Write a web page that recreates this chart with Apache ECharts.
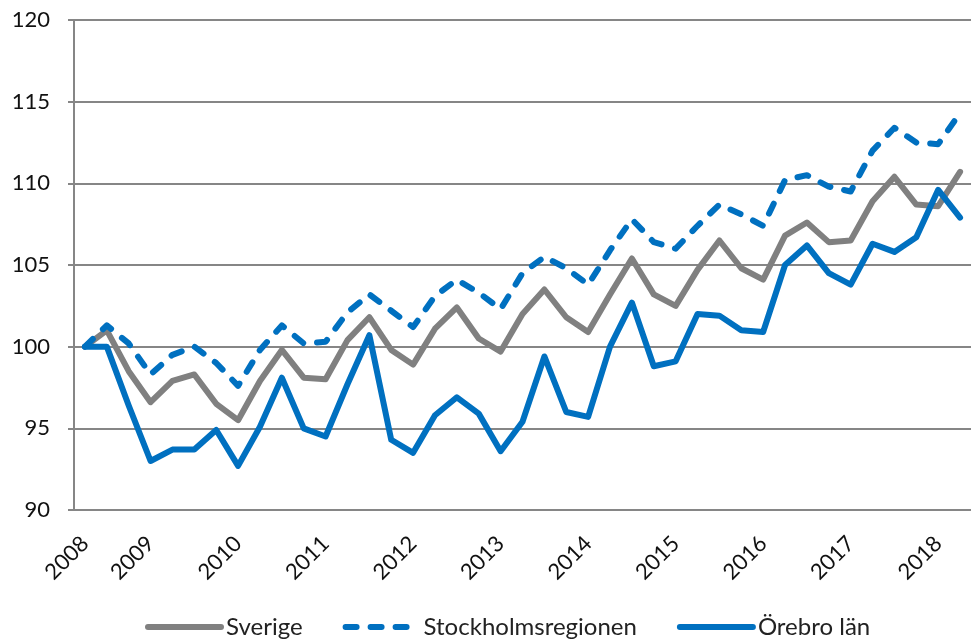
<!DOCTYPE html>
<html>
<head>
<meta charset="utf-8">
<script src="https://cdn.jsdelivr.net/npm/echarts@6/dist/echarts.min.js"></script>
<style>
html, body { margin: 0; padding: 0; background: #fff; }
#chart { width: 971px; height: 644px; }
</style>
</head>
<body>
<div id="chart"></div>
<script>
// kvartal 2008 K2 - 2018 K2, år visas vid första kvartalet
const categories = ['2008', '', '', '2009', '', '', '', '2010', '', '', '', '2011', '', '', '', '2012', '', '', '', '2013', '', '', '',
    '2014', '', '', '', '2015', '', '', '', '2016', '', '', '', '2017', '', '', '', '2018', ''];

const sverige = [100, 101.0, 98.5, 96.6, 97.9, 98.3, 96.5, 95.5, 97.9, 99.8, 98.1, 98.0, 100.4, 101.8,
    99.8, 98.9, 101.1, 102.4, 100.5, 99.7, 102.0, 103.5, 101.8, 100.9, 103.2, 105.4,
    103.2, 102.5, 104.7, 106.5, 104.8, 104.1, 106.8, 107.6, 106.4, 106.5, 108.9, 110.4, 108.7, 108.6, 110.7];

const stockholm = [100, 101.3, 100.2, 98.3, 99.5, 100.0, 99.0, 97.6, 99.8, 101.3, 100.2, 100.3, 102.1, 103.2,
    102.2, 101.2, 103.1, 104.1, 103.3, 102.3, 104.5, 105.5, 104.8, 103.8, 105.9, 107.8,
    106.4, 106.0, 107.4, 108.7, 108.1, 107.4, 110.2, 110.5, 109.8, 109.5, 112.0, 113.4, 112.5, 112.4, 114.3];

const orebro = [100, 100.0, 96.4, 93.0, 93.7, 93.7, 94.9, 92.7, 95.1, 98.1, 95.0, 94.5, 97.7, 100.7,
    94.3, 93.5, 95.8, 96.9, 95.9, 93.6, 95.4, 99.4, 96.0, 95.7, 100.0, 102.7,
    98.8, 99.1, 102.0, 101.9, 101.0, 100.9, 105.0, 106.2, 104.5, 103.8, 106.3, 105.8, 106.7, 109.6, 107.9];

const gray = '#868686';
const blue = '#0070C0';
const fontFamily = 'Lato, "Open Sans", sans-serif';

let myChart = echarts.init(document.getElementById('chart'));
myChart.setOption({
    animation: false,
    grid: {
        top: 20,
        left: 74,
        right: 0,
        bottom: 134
    },
    legend: {
        bottom: 0,
        left: 140,
        itemWidth: 73,
        itemHeight: 24,
        itemGap: 40,
        itemStyle: { opacity: 0 },
        lineStyle: { width: 6, cap: 'round' },
        textStyle: {
            color: '#222',
            fontSize: 24,
            fontFamily: fontFamily
        },
        data: ['Sverige', 'Stockholmsregionen', 'Örebro län']
    },
    xAxis: {
        type: 'category',
        data: categories,
        boundaryGap: true,
        axisLine: { lineStyle: { color: gray, width: 2 } },
        axisTick: { interval: 0, length: 6, lineStyle: { color: gray, width: 2 } },
        axisLabel: {
            interval: 0,
            rotate: 45,
            color: '#111',
            fontSize: 22,
            fontFamily: fontFamily,
            margin: 30
        }
    },
    yAxis: {
        type: 'value',
        min: 90,
        max: 120,
        interval: 5,
        axisLine: { show: true, lineStyle: { color: gray, width: 2 } },
        axisTick: { show: true, length: 6, lineStyle: { color: gray, width: 2 } },
        splitLine: { lineStyle: { color: gray, width: 2 } },
        axisLabel: {
            color: '#111',
            fontSize: 22,
            fontFamily: fontFamily,
            margin: 24
        }
    },
    series: [
        {
            name: 'Sverige',
            type: 'line',
            data: sverige,
            symbol: 'none',
            color: '#808080',
            lineStyle: { color: '#808080', width: 6, cap: 'round', join: 'round' }
        },
        {
            name: 'Stockholmsregionen',
            type: 'line',
            data: stockholm,
            symbol: 'none',
            color: blue,
            lineStyle: { color: blue, width: 6, type: [11, 14], cap: 'round', join: 'round' }
        },
        {
            name: 'Örebro län',
            type: 'line',
            data: orebro,
            symbol: 'none',
            color: blue,
            lineStyle: { color: blue, width: 6, cap: 'round', join: 'round' }
        }
    ]
});
</script>
</body>
</html>
